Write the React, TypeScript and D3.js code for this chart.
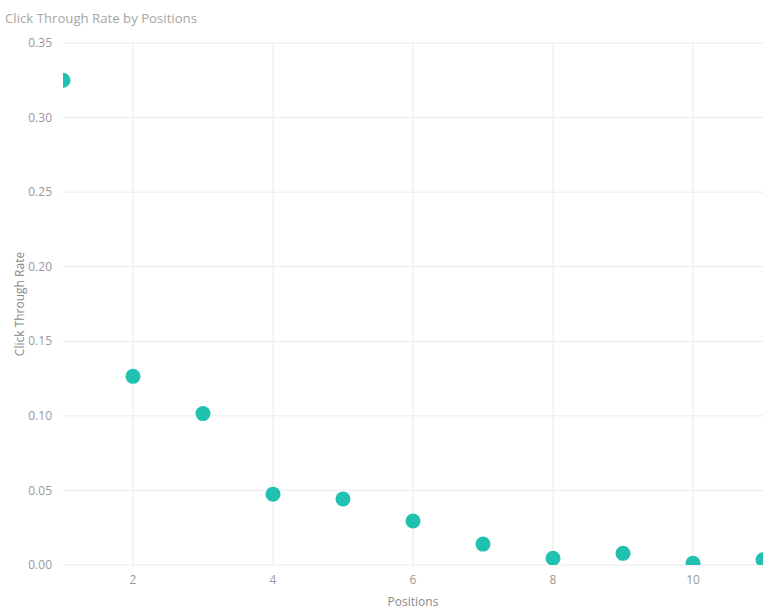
import React from "react";
import * as d3 from "d3";

const positions = [1, 2, 3, 4, 5, 6, 7, 8, 9, 10, 11];
const ctr = [0.325, 0.1265, 0.1015, 0.0475, 0.0443, 0.0295, 0.014, 0.0045, 0.0078, 0.0012, 0.0035];
const yTicks = [0, 0.05, 0.1, 0.15, 0.2, 0.25, 0.3, 0.35];
const xTicks = [2, 4, 6, 8, 10];

const W = 783;
const H = 615;
const M = { left: 63, right: 20, top: 43, bottom: 50 };
const FONT = "'Segoe UI', 'Open Sans', sans-serif";

export default function App() {
  const x = d3.scaleLinear().domain([1, 11]).range([M.left, W - M.right]);
  const y = d3.scaleLinear().domain([0, 0.35]).range([H - M.bottom, M.top]);
  const [x0, x1] = x.range();
  const [y0, y1] = y.range();
  return (
    <svg width={W} height={H} style={{ position: "absolute", left: 0, top: 0, background: "#fff" }}>
      <defs>
        <clipPath id="plot">
          <rect x={x0} y={y1} width={x1 - x0} height={y0 - y1} />
        </clipPath>
      </defs>
      <text x={5} y={23} fontFamily={FONT} fontSize={13.2} fill="#a6a6a6">
        Click Through Rate by Positions
      </text>
      {yTicks.map((t) => (
        <g key={"y" + t}>
          <line x1={x0} x2={x1} y1={y(t)} y2={y(t)} stroke="#eaeaea" strokeWidth={1} />
          <text x={52} y={y(t)} dy="0.35em" textAnchor="end" fontFamily={FONT} fontSize={12} fill="#999">
            {d3.format(".2f")(t)}
          </text>
        </g>
      ))}
      {xTicks.map((t) => (
        <g key={"x" + t}>
          <line x1={x(t)} x2={x(t)} y1={y1} y2={y0} stroke="#eaeaea" strokeWidth={1} />
          <text x={x(t)} y={y0 + 15} dy="0.35em" textAnchor="middle" fontFamily={FONT} fontSize={12} fill="#999">
            {t}
          </text>
        </g>
      ))}
      <text x={413} y={606} textAnchor="middle" fontFamily={FONT} fontSize={12} fill="#888">
        Positions
      </text>
      <text
        transform={`translate(24, ${(y0 + y1) / 2}) rotate(-90)`}
        textAnchor="middle"
        fontFamily={FONT}
        fontSize={12}
        fill="#888"
      >
        Click Through Rate
      </text>
      <g clipPath="url(#plot)">
        {positions.map((p, i) => (
          <circle key={p} cx={x(p)} cy={y(ctr[i])} r={7.5} fill="#21c1b1" />
        ))}
      </g>
    </svg>
  );
}
